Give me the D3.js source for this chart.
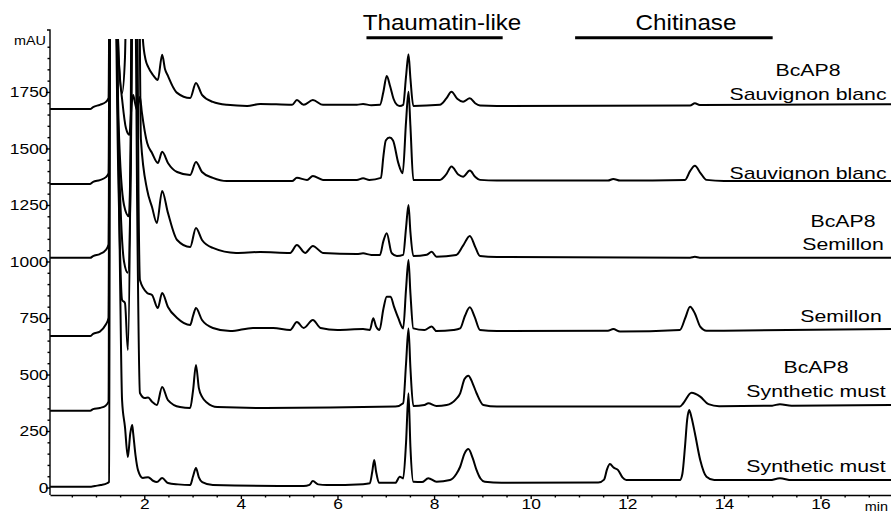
<!DOCTYPE html>
<html>
<head>
<meta charset="utf-8">
<script src="https://cdn.jsdelivr.net/npm/d3@7"></script>
<style>
  body { margin: 0; background: #fff; }
  svg { display: block; font-family: "Liberation Sans", Arial, sans-serif; }
</style>
</head>
<body>
<svg id="chart" width="891" height="521"></svg>
<script>
// chromatograms, [time (min), absorbance (mAU)]
const synthMust = [[0.05,4],[0.90,4],[0.98,7],[1.10,11],[1.23,19],[1.27,25],[1.30,2600],[1.36,2600],[1.44,1900],[1.50,900],[1.54,387],[1.60,268],[1.66,135],[1.71,240],[1.75,277],[1.77,241],[1.82,140],[1.87,77],[1.97,42],[2.08,46],[2.18,30],[2.26,24],[2.37,42],[2.49,20],[2.70,14],[2.95,11],[3.01,50],[3.07,86],[3.13,45],[3.20,24],[3.42,11],[5.30,7],[5.42,12],[5.49,29],[5.60,14],[5.78,11],[6.53,15],[6.67,19],[6.72,70],[6.76,122],[6.80,70],[6.86,21],[7.20,21],[7.29,48],[7.36,40],[7.42,200],[7.47,417],[7.51,180],[7.57,26],[7.75,24],[7.88,41],[8.05,26],[8.33,33],[8.46,60],[8.54,92],[8.63,150],[8.71,170],[8.80,130],[8.88,77],[8.96,40],[9.05,26],[9.40,21],[11.40,22],[11.52,35],[11.58,80],[11.64,104],[11.72,88],[11.81,77],[11.90,45],[11.98,33],[13.09,33],[13.14,60],[13.195,181],[13.24,300],[13.28,343],[13.33,310],[13.40,240],[13.51,122],[13.64,48],[13.80,33],[14.95,33],[15.16,41],[15.40,33],[17.46,33]];

const bcap8SynthMust = [[0.05,340],[0.88,340],[0.94,347],[1.08,352],[1.20,362],[1.26,380],[1.29,2600],[1.37,2600],[1.46,1400],[1.54,830],[1.60,816],[1.66,608],[1.71,1300],[1.75,2600],[1.80,2600],[1.85,1300],[1.91,418],[2.01,396],[2.08,398],[2.16,380],[2.26,365],[2.37,445],[2.49,387],[2.74,356],[2.95,352],[3.01,430],[3.07,542],[3.13,440],[3.20,400],[3.30,375],[3.51,356],[4.50,352],[7.20,358],[7.36,373],[7.42,550],[7.47,704],[7.51,530],[7.57,361],[7.80,365],[7.88,373],[8.05,361],[8.26,365],[8.45,390],[8.54,417],[8.63,480],[8.71,495],[8.80,460],[8.88,417],[9.02,365],[9.30,358],[13.09,358],[13.16,373],[13.33,419],[13.51,402],[13.68,369],[13.90,360],[15.00,362],[15.16,369],[15.40,362],[17.46,365]];

const semillon = [[0.05,670],[0.88,670],[0.94,680],[1.08,690],[1.20,720],[1.26,750],[1.29,2600],[1.37,2600],[1.47,1500],[1.58,1000],[1.66,950],[1.72,1400],[1.77,2600],[1.84,2600],[1.88,1300],[1.91,918],[2.06,861],[2.16,852],[2.28,794],[2.37,861],[2.49,799],[2.68,750],[2.95,719],[3.01,760],[3.07,794],[3.195,741],[3.42,706],[3.78,692],[4.25,706],[4.67,706],[5.02,697],[5.16,732],[5.30,706],[5.49,741],[5.65,706],[6.00,697],[6.53,701],[6.67,697],[6.74,749],[6.80,712],[6.87,697],[6.95,790],[7.02,844],[7.10,844],[7.17,800],[7.26,749],[7.36,704],[7.42,880],[7.47,1007],[7.51,860],[7.57,704],[7.80,697],[7.95,712],[8.05,692],[8.40,697],[8.54,704],[8.64,760],[8.74,797],[8.84,755],[8.95,697],[9.30,692],[11.60,694],[11.71,701],[11.85,690],[13.09,697],[13.20,750],[13.30,800],[13.40,770],[13.51,712],[13.64,694],[14.00,694],[17.46,701]];

const bcap8Semillon = [[0.05,1016],[0.88,1016],[0.94,1024],[1.08,1033],[1.20,1050],[1.26,1075],[1.29,2600],[1.37,2600],[1.47,1600],[1.58,1250],[1.68,1200],[1.72,1500],[1.78,2600],[1.88,2600],[1.93,1540],[2.06,1316],[2.16,1241],[2.26,1170],[2.37,1312],[2.49,1215],[2.68,1095],[2.95,1064],[3.07,1148],[3.195,1095],[3.42,1060],[3.90,1038],[4.40,1042],[5.02,1038],[5.16,1073],[5.33,1038],[5.49,1069],[5.70,1038],[6.40,1033],[6.53,1036],[6.70,1029],[6.88,1029],[6.95,1090],[7.02,1125],[7.12,1038],[7.23,1024],[7.36,1029],[7.42,1150],[7.47,1250],[7.51,1130],[7.57,1024],[7.85,1030],[7.95,1043],[8.05,1021],[8.46,1029],[8.60,1070],[8.74,1113],[8.86,1060],[8.95,1024],[9.30,1020],[13.30,1017],[13.40,1021],[13.50,1017],[17.46,1017]];

const sauvignon = [[0.05,1343],[0.88,1343],[0.94,1352],[1.08,1360],[1.20,1372],[1.26,1390],[1.29,2600],[1.37,2600],[1.47,1900],[1.55,1700],[1.62,1590],[1.69,1560],[1.74,1700],[1.77,1737],[1.81,1700],[1.85,1670],[1.88,1700],[1.91,1728],[1.95,1660],[2.06,1524],[2.16,1480],[2.28,1436],[2.37,1485],[2.49,1436],[2.68,1396],[2.95,1383],[3.07,1440],[3.195,1396],[3.42,1370],[3.71,1356],[5.06,1356],[5.16,1370],[5.37,1361],[5.49,1378],[5.70,1361],[6.40,1361],[6.53,1368],[6.66,1361],[6.90,1370],[6.95,1464],[7.00,1535],[7.08,1548],[7.15,1535],[7.26,1435],[7.35,1390],[7.42,1620],[7.47,1751],[7.51,1600],[7.57,1361],[8.12,1361],[8.25,1385],[8.36,1420],[8.50,1385],[8.60,1375],[8.74,1402],[8.85,1375],[8.95,1361],[9.30,1358],[11.60,1358],[11.71,1365],[11.85,1358],[13.195,1361],[13.30,1400],[13.40,1423],[13.52,1390],[13.64,1361],[14.00,1356],[17.46,1356]];

const bcap8Sauvignon = [[0.05,1674],[0.88,1674],[0.94,1683],[1.08,1693],[1.20,1705],[1.26,1723],[1.29,2600],[1.37,2600],[1.47,1900],[1.54,1745],[1.60,1900],[1.66,2600],[1.90,2600],[1.97,1985],[2.03,1890],[2.08,1861],[2.18,1825],[2.28,1803],[2.37,1914],[2.43,1850],[2.49,1821],[2.60,1770],[2.68,1746],[2.95,1723],[3.07,1790],[3.195,1737],[3.42,1706],[3.71,1693],[4.13,1688],[4.40,1697],[5.06,1693],[5.16,1714],[5.30,1693],[5.49,1714],[5.70,1693],[6.40,1693],[6.53,1697],[6.70,1691],[6.88,1693],[6.95,1750],[7.02,1821],[7.09,1775],[7.16,1720],[7.23,1693],[7.29,1688],[7.36,1693],[7.42,1820],[7.47,1917],[7.51,1810],[7.57,1688],[8.12,1693],[8.25,1720],[8.36,1751],[8.48,1720],[8.60,1707],[8.74,1722],[8.85,1700],[8.95,1690],[9.30,1688],[13.30,1690],[13.40,1700],[13.50,1692],[17.46,1696]];

const traces = [synthMust, bcap8SynthMust, semillon, bcap8Semillon, sauvignon, bcap8Sauvignon];
const seriesNames = [["Synthetic must"], ["BcAP8", "Synthetic must"], ["Semillon"], ["BcAP8", "Semillon"], ["Sauvignon blanc"], ["BcAP8", "Sauvignon blanc"]];

const yTicks = [0, 250, 500, 750, 1000, 1250, 1500, 1750];
const xTicks = [2, 4, 6, 8, 10, 12, 14, 16];
const regions = [["Thaumatin-like", 6.60, 9.42], ["Chitinase", 10.92, 15.01]];

const svg = d3.select("#chart");
const x = d3.scaleLinear().domain([0.048, 17.46]).range([50, 891]);
const y = d3.scaleLinear().domain([-33, 2024]).range([495, 30]);

svg.append("clipPath").attr("id", "plot")
  .append("rect").attr("x", 50).attr("y", 39).attr("width", 841).attr("height", 456);

const line = d3.line()
  .x(d => x(d[0]))
  .y(d => y(d[1]))
  .curve(d3.curveMonotoneX);

svg.append("g").attr("clip-path", "url(#plot)")
  .selectAll("path")
  .data(traces)
  .join("path")
  .attr("d", line)
  .attr("fill", "none")
  .attr("stroke", "#000")
  .attr("stroke-width", 2)
  .attr("stroke-linejoin", "round");

// axes
const sx = 1.2;
const yMinor = d3.range(0, 2001, 50).filter(v => v % 250 !== 0);
const xMinor = d3.range(0.5, 17.01, 0.5).filter(v => v % 2 !== 0);

svg.append("g").attr("transform", "translate(50,0)")
  .call(d3.axisLeft(y).tickValues(yMinor).tickSize(2.5).tickFormat(""))
  .call(g => g.select(".domain").remove());

const gy = svg.append("g").attr("transform", "translate(50,0)")
  .call(d3.axisLeft(y).tickValues(yTicks).tickSize(4).tickSizeOuter(3).tickFormat(d3.format("d")));
gy.select(".domain").attr("d", "M-3,30H0V495");
gy.selectAll(".tick text")
  .attr("x", -1.5 / sx)
  .attr("transform", `scale(${sx},1)`)
  .attr("font-size", 14.5)
  .attr("font-family", null);

svg.append("g").attr("transform", "translate(0,495)")
  .call(d3.axisBottom(x).tickValues(xMinor).tickSize(2.5).tickFormat(""))
  .call(g => g.select(".domain").remove());

const gx = svg.append("g").attr("transform", "translate(0,495)")
  .call(d3.axisBottom(x).tickValues(xTicks).tickSize(4).tickSizeOuter(0));
gx.selectAll(".tick text")
  .attr("y", 4)
  .attr("transform", `scale(${sx},1)`)
  .attr("font-size", 14.5)
  .attr("font-family", null);

svg.selectAll(".domain, .tick line").attr("stroke", "#000").attr("stroke-width", 1.4);

svg.append("text")
  .attr("transform", `translate(46,45) scale(${sx},1)`)
  .attr("text-anchor", "end")
  .attr("font-size", 12)
  .text("mAU");

svg.append("text")
  .attr("transform", `translate(888,511) scale(${sx},1)`)
  .attr("text-anchor", "end")
  .attr("font-size", 12)
  .text("min");

// protein regions
const reg = svg.append("g");
reg.selectAll("line")
  .data(regions)
  .join("line")
  .attr("x1", d => x(d[1]))
  .attr("x2", d => x(d[2]))
  .attr("y1", 37.7)
  .attr("y2", 37.7)
  .attr("stroke", "#000")
  .attr("stroke-width", 3);

const titleX = [442, 686];
reg.selectAll("text")
  .data(regions)
  .join("text")
  .attr("transform", (d, i) => `translate(${titleX[i]},30) scale(1.1,1)`)
  .attr("text-anchor", "middle")
  .attr("font-size", 22)
  .text(d => d[0]);

// series labels
const labelPos = [[816, 471.7], [816, 373.3], [841, 321.7], [843, 226.7], [808, 179], [808, 76]];
seriesNames.forEach((lines, i) => {
  lines.forEach((s, j) => {
    svg.append("text")
      .attr("transform", `translate(${labelPos[i][0]},${labelPos[i][1] + j * 23.5}) scale(1.25,1)`)
      .attr("text-anchor", "middle")
      .attr("font-size", 17)
      .text(s);
  });
});
</script>
</body>
</html>
